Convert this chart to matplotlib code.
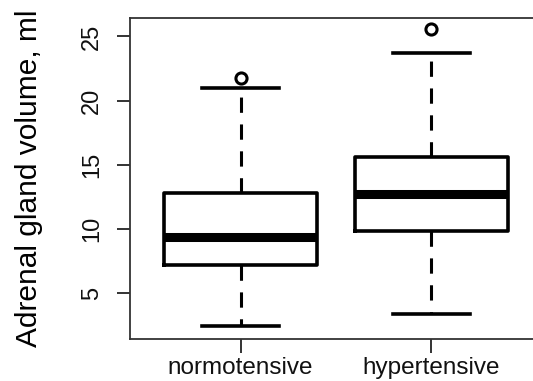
import matplotlib
matplotlib.use("Agg")
import matplotlib.pyplot as plt

plt.rcParams['font.family'] = ['Liberation Sans', 'DejaVu Sans']

# boxplot summary values
groups = ['normotensive', 'hypertensive']
whisker_low = [2.46, 3.39]
q1 = [7.2, 9.88]
median = [9.36, 12.73]
q3 = [12.83, 15.63]
whisker_high = [20.96, 23.73]
outliers = [[21.8], [25.55]]

stats = []
for i, g in enumerate(groups):
    stats.append({'label': g, 'whislo': whisker_low[i], 'q1': q1[i], 'med': median[i],
                  'q3': q3[i], 'whishi': whisker_high[i], 'fliers': outliers[i]})

fig = plt.figure(figsize=(5.33, 3.81), dpi=100)
# right edge of the frame lies just outside the image, like the original
ax = fig.add_axes([130 / 533, 1 - 339 / 381, (542 - 130) / 533, (339 - 17.5) / 381])

ax.bxp(stats, positions=[1, 2], widths=0.8,
       boxprops=dict(color='black', linewidth=2.6),
       medianprops=dict(color='black', linewidth=6.5, solid_capstyle='butt'),
       whiskerprops=dict(color='black', linewidth=2.2, linestyle=(0, (5, 3.8))),
       capprops=dict(color='black', linewidth=2.6),
       flierprops=dict(marker='o', markerfacecolor='none', markeredgecolor='black',
                       markersize=8, markeredgewidth=2.2),
       capwidths=0.4)

ax.set_xlim(0.42, 2.58)
ax.set_ylim(1.45, 26.47)
ax.set_yticks([5, 10, 15, 20, 25])
ax.set_yticklabels(['5', '10', '15', '20', '25'], rotation=90, va='center', fontsize=17)
ax.set_xticks([1, 2])
ax.set_xticklabels(groups, fontsize=17.5)
ax.tick_params(axis='y', length=9.5, width=1.2, pad=10, colors='#111111')
ax.tick_params(axis='x', length=10, width=1.2, pad=3, colors='#111111')
ax.set_ylabel('Adrenal gland volume, ml', fontsize=21.5, labelpad=27)

for s in ax.spines.values():
    s.set_linewidth(1.3)
    s.set_color('#333333')

fig.savefig('out.png', dpi=100)
